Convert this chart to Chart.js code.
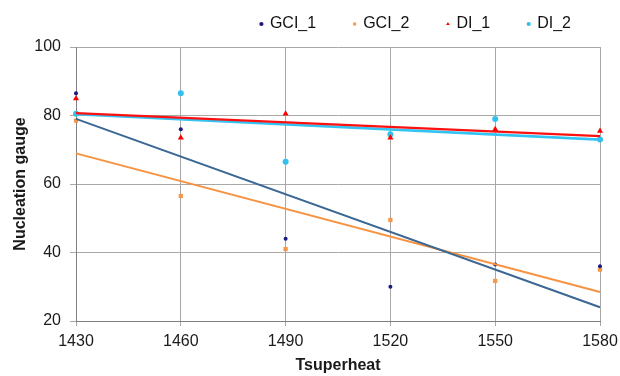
<!DOCTYPE html>
<html>
<head>
<meta charset="utf-8">
<script src="https://cdn.jsdelivr.net/npm/chart.js@4.4.1/dist/chart.umd.min.js"></script>
<style>
  html, body { margin: 0; padding: 0; background: #fff; }
  #wrap { width: 620px; height: 376px; }
</style>
</head>
<body>
<div id="wrap"><canvas id="chart"></canvas></div>
<script>
// superheat temperatures
var temps = [1430, 1460, 1490, 1520, 1550, 1580];

// nucleation gauge per method
var gci1 = [86.5, 76, 44, 30, 36.5, 36];
var gci2 = [78.5, 56.5, 41, 49.5, 31.7, 35];
var di1 = [85, 73.5, 80.5, 73.5, 76, 75.5];
var di2 = [80.5, 86.5, 66.5, 74.5, 79, 73];

var yTicks = [20, 40, 60, 80, 100];

function points(ys) {
  return temps.map(function(t, i) { return { x: t, y: ys[i] }; });
}

// least squares line through the points, end to end
function trend(ys) {
  var n = temps.length, sx = 0, sy = 0, sxx = 0, sxy = 0;
  for (var i = 0; i < n; i++) {
    sx += temps[i]; sy += ys[i];
    sxx += temps[i] * temps[i]; sxy += temps[i] * ys[i];
  }
  var b = (n * sxy - sx * sy) / (n * sxx - sx * sx);
  var a = (sy - b * sx) / n;
  var x0 = temps[0], x1 = temps[n - 1];
  return [{ x: x0, y: a + b * x0 }, { x: x1, y: a + b * x1 }];
}

function fitLine(label, ys, color, width) {
  return {
    label: label,
    data: trend(ys),
    showLine: true,
    borderColor: color,
    borderWidth: width,
    pointRadius: 0,
    fill: false,
    clip: false,
    trend: true
  };
}

function marks(label, ys, color, style, r) {
  return {
    label: label,
    data: points(ys),
    pointStyle: style,
    pointRadius: r,
    pointHoverRadius: r,
    backgroundColor: color,
    borderColor: color,
    borderWidth: 0,
    showLine: false,
    clip: false
  };
}

// legend sits higher and further right than its box would put it
var legendNudge = {
  id: 'legendNudge',
  afterLayout: function(chart) {
    if (!chart.legend) return;
    chart.legend.top = -22;
    chart.legend.right = 609;
  }
};

Chart.defaults.font.family = '"Liberation Sans", Arial, sans-serif';
Chart.defaults.font.size = 16;
Chart.defaults.color = '#1a1a1a';

var ctx = document.getElementById('chart');

var myChart = new Chart(ctx, {
  type: 'scatter',
  data: {
    datasets: [
      fitLine('t1', gci1, '#3a6794', 2),
      fitLine('t2', gci2, '#f79240', 2),
      fitLine('t3', di1, '#ff1010', 2.2),
      fitLine('t4', di2, '#33c4f4', 2.6),
      marks('GCI_1', gci1, '#1a1a80', 'circle', 2),
      marks('GCI_2', gci2, '#f79646', 'rect', 3),
      marks('DI_1', di1, '#ff0000', 'triangle', 3.5),
      marks('DI_2', di2, '#33c0f0', 'circle', 3)
    ]
  },
  plugins: [legendNudge],
  options: {
    responsive: true,
    maintainAspectRatio: false,
    animation: false,
    layout: { padding: { left: 8, right: 20, top: 4, bottom: 0 } },
    plugins: {
      tooltip: { enabled: false },
      legend: {
        position: 'top',
        align: 'end',
        maxHeight: 43,
        labels: {
          usePointStyle: true,
          boxWidth: 1,
          boxHeight: 3,
          padding: 38,
          color: '#111',
          font: { size: 16 },
          filter: function(item, data) {
            return !data.datasets[item.datasetIndex].trend;
          }
        }
      }
    },
    scales: {
      x: {
        type: 'linear',
        min: 1430,
        max: 1580,
        afterBuildTicks: function(scale) {
          scale.ticks = temps.map(function(v) { return { value: v }; });
        },
        afterFit: function(scale) {
          scale.height = 55;
          scale.paddingLeft = 0;
          scale.paddingRight = 0;
        },
        grid: { color: '#a8a8a8', lineWidth: 1, tickLength: 5, tickColor: '#a8a8a8' },
        border: { color: '#808080', width: 1 },
        ticks: {
          padding: 6,
          maxRotation: 0,
          font: { size: 16 },
          callback: function(v) { return String(v); }
        },
        title: {
          display: true,
          text: 'Tsuperheat',
          font: { size: 16, weight: 'bold' },
          padding: { top: 4, bottom: 1 }
        }
      },
      y: {
        min: 20,
        max: 100,
        afterBuildTicks: function(scale) {
          scale.ticks = yTicks.map(function(v) { return { value: v }; });
        },
        afterFit: function(scale) { scale.width = 68; },
        grid: { color: '#a8a8a8', lineWidth: 1, tickLength: 6, tickColor: '#a8a8a8' },
        border: { color: '#808080', width: 1 },
        ticks: {
          padding: 9,
          font: { size: 16 },
          callback: function(v) { return String(v); }
        },
        title: {
          display: true,
          text: 'Nucleation gauge',
          font: { size: 16, weight: 'bold' },
          padding: { top: 3, bottom: 4 }
        }
      }
    }
  }
});
</script>
</body>
</html>
